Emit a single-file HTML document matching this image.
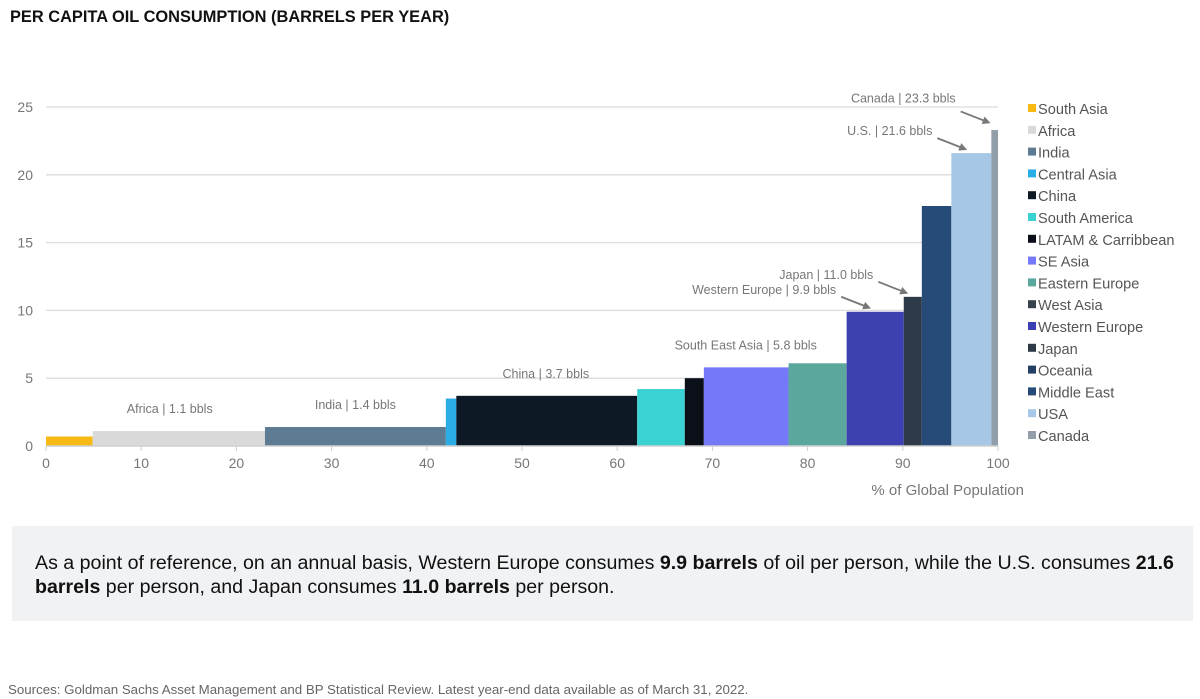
<!DOCTYPE html>
<html><head><meta charset="utf-8"><style>
body{margin:0;width:1200px;height:699px;background:#fff;font-family:"Liberation Sans",sans-serif;position:relative;overflow:hidden}
#title{position:absolute;left:10px;top:8px;font-size:16.4px;font-weight:bold;color:#111}
#note{position:absolute;left:12px;top:526px;width:1181px;height:95px;background:#f1f2f4}
#note p{margin:0;position:absolute;left:23px;top:25px;width:1155px;font-size:19.6px;line-height:24px;color:#111}
#src{position:absolute;left:8px;top:682px;font-size:13.3px;color:#666}
</style></head><body>
<div id="title">PER CAPITA OIL CONSUMPTION (BARRELS PER YEAR)</div>
<svg id="chart" width="1200" height="520" style="position:absolute;left:0;top:0"></svg>
<div id="note"><p>As a point of reference, on an annual basis, Western Europe consumes <b>9.9 barrels</b> of oil per person, while the U.S. consumes <b>21.6 barrels</b> per person, and Japan consumes <b>11.0 barrels</b> per person.</p></div>
<div id="src">Sources: Goldman Sachs Asset Management and BP Statistical Review. Latest year-end data available as of March 31, 2022.</div>
<script>
const regions=["South Asia","Africa","India","Central Asia","China","South America","LATAM & Carribbean","SE Asia","Eastern Europe","West Asia","Western Europe","Japan","Oceania","Middle East","USA","Canada"];
const popShare=[4.9,18.1,19,1.1,19,5,2,8.9,6.1,0,6,1.9,0,3.1,4.2,0.7];
const perCapita=[0.7,1.1,1.4,3.5,3.7,4.2,5.0,5.8,6.1,6.5,9.9,11.0,15,17.7,21.6,23.3];
const colors=["#f9b914","#d9d9d9","#5d7b93","#2aace4","#0d1a26","#3bd2d4","#0b0f17","#7479f7","#5ba79e","#37424e","#3d40b0","#2e3a47","#233f66","#264b78","#a6c8e6","#939eab"];
const yTicks=[0,5,10,15,20,25];
const xTicks=[0,10,20,30,40,50,60,70,80,90,100];
const annotations=[["Canada | 23.3 bbls",99.65,23.3,12],["U.S. | 21.6 bbls",97.2,21.6,0],["Japan | 11.0 bbls",91,11.0,0],["Western Europe | 9.9 bbls",87.1,9.9,0]];
const plainLabels=[["Africa | 1.1 bbls",13,1.1],["India | 1.4 bbls",32.5,1.4],["China | 3.7 bbls",52.5,3.7],["South East Asia | 5.8 bbls",73.5,5.8]];
const NS="http://www.w3.org/2000/svg",svg=document.getElementById('chart');
const X=v=>46+v*9.52, Y=v=>446-v*13.56;
function mk(t,a,txt){const e=document.createElementNS(NS,t);for(const k in a)e.setAttribute(k,a[k]);if(txt!=null)e.textContent=txt;svg.appendChild(e);return e;}
yTicks.forEach(t=>{
 if(t>0){const g=mk('line',{x1:X(0),x2:X(100),y1:Y(t),y2:Y(t),stroke:'#dcdcdc','stroke-width':1.3});
 
 }
 const l=mk('text',{x:33,y:Y(t)+5,'text-anchor':'end','font-size':14,fill:'#777'},t);
 
 
});
let cum=0;
regions.forEach((r,i)=>{
 const w=popShare[i];
 if(w>0){const b=mk('rect',{x:X(cum),y:Y(perCapita[i]),width:w*9.52,height:perCapita[i]*13.56,fill:colors[i]});
 
 }
 cum+=w;
 const ly=109+i*21.8;
 const s=mk('rect',{x:1028,y:ly-5,width:8,height:8,fill:colors[i]});
 
 
 const t=mk('text',{x:1038,y:ly+5,'font-size':14.6,fill:'#555'},r);
 
 
});
const ax=mk('line',{x1:X(0),x2:X(100),y1:Y(0),y2:Y(0),stroke:'#cfcfcf','stroke-width':1.5});


xTicks.forEach(t=>{
 mk('line',{x1:X(t),x2:X(t),y1:Y(0),y2:Y(0)+5,stroke:'#cfcfcf'});
 const l=mk('text',{x:X(t),y:468,'text-anchor':'middle','font-size':14,fill:'#777'},t);
 
 
});
const xt=mk('text',{x:1024,y:495,'text-anchor':'end','font-size':15,fill:'#777'},'% of Global Population');


mk('defs',{}).innerHTML='<marker id="ah" markerWidth="8" markerHeight="8" refX="6" refY="4" orient="auto" markerUnits="userSpaceOnUse"><path d="M0,0 L8,4 L0,8 z" fill="#777"/></marker>';
const FN='"Liberation Sans Narrow","Liberation Sans",sans-serif';
plainLabels.forEach(([s,x,v])=>{
 const t=mk('text',{x:X(x),y:Y(v)-18,'text-anchor':'middle','font-size':12.5,fill:'#777','font-family':FN},s);
 
 
});
annotations.forEach(([s,x,v,dy])=>{
 const ex=X(x)-6,ey=Y(v)-4-dy*0.3,sx=ex-28,sy=ey-11;
 const t=mk('text',{x:sx-5,y:sy-3-dy*0.5,'text-anchor':'end','font-size':12.5,fill:'#777','font-family':FN},s);
 
 
 const a=mk('line',{x1:sx,y1:sy,x2:ex,y2:ey,stroke:'#777','stroke-width':1.8,'marker-end':'url(#ah)'});
 
 
});
</script>
</body></html>
